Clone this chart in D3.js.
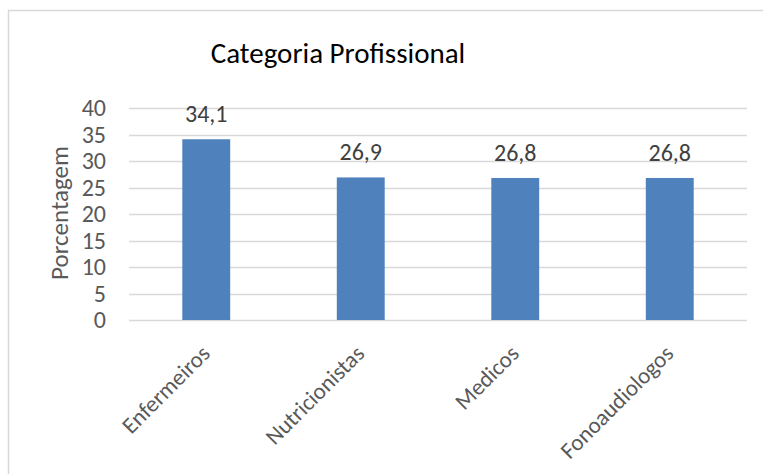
<!DOCTYPE html>
<html>
<head>
<meta charset="utf-8">
<script src="https://cdn.jsdelivr.net/npm/d3@7"></script>
<style>
  body { margin: 0; background: #fff; overflow: hidden; }
  svg { display: block; font-family: Carlito, Calibri, Lato, sans-serif; }
</style>
</head>
<body>
<svg id="chart" width="763" height="474"></svg>
<script>
const categories = ["Enfermeiros", "Nutricionistas", "Medicos", "Fonoaudiologos"];
const values = [34.1, 26.9, 26.8, 26.8];
const y_ticks = [0, 5, 10, 15, 20, 25, 30, 35, 40];

const svg = d3.select("#chart");
const width = 763;
const height = 474;
const margin = { left: 129, right: 16, top: 108, bottom: 154 };

// outer frame (only left/top edges fall inside the picture)
svg.append("rect")
  .attr("x", 8.5).attr("y", 10.5)
  .attr("width", 800).attr("height", 500)
  .attr("fill", "#fff")
  .attr("stroke", "#d9d9d9")
  .attr("stroke-width", 1.5);

const x = d3.scaleBand()
  .domain(categories)
  .range([margin.left, width - margin.right])
  .paddingInner(0.69)
  .paddingOuter(0.345);

const y = d3.scaleLinear()
  .domain([0, 40])
  .range([height - margin.bottom, margin.top]);

// grid
svg.append("g")
  .selectAll("line")
  .data(y_ticks)
  .join("line")
  .attr("x1", margin.left)
  .attr("x2", width - margin.right)
  .attr("y1", d => Math.round(y(d)) + 0.5)
  .attr("y2", d => Math.round(y(d)) + 0.5)
  .attr("stroke", "#d9d9d9")
  .attr("stroke-width", 1.5);

// y axis labels
const yAxis = svg.append("g")
  .attr("transform", `translate(${ margin.left - 23 }, 0)`)
  .call(d3.axisLeft(y).tickValues(y_ticks).tickSize(0).tickPadding(0));
yAxis.attr("font-family", null).attr("font-size", null);
yAxis.select(".domain").remove();
yAxis.selectAll("text")
  .attr("fill", "#595959")
  .attr("dy", "0.33em")
  .style("font-size", "24px");

// bars
svg.append("g")
  .selectAll("rect")
  .data(values)
  .join("rect")
  .attr("x", (d, i) => x(categories[i]))
  .attr("y", d => y(d))
  .attr("width", x.bandwidth())
  .attr("height", d => y(0) - y(d))
  .attr("fill", "#4f81bd");

// data labels
svg.append("g")
  .selectAll("text")
  .data(values)
  .join("text")
  .attr("x", (d, i) => x(categories[i]) + x.bandwidth() / 2)
  .attr("y", d => y(d) - 17)
  .attr("text-anchor", "middle")
  .attr("fill", "#404040")
  .style("font-size", "24px")
  .text(d => d.toFixed(1).replace(".", ","));

// x axis labels
const xAxis = svg.append("g")
  .attr("transform", `translate(0, ${ y(0) })`)
  .call(d3.axisBottom(x).tickSize(0).tickPadding(0));
xAxis.attr("font-family", null).attr("font-size", null);
xAxis.select(".domain").remove();
xAxis.selectAll("text")
  .attr("fill", "#595959")
  .style("font-size", "23px")
  .attr("text-anchor", "end")
  .attr("y", 0)
  .attr("dy", 0)
  .attr("transform", "translate(5, 35) rotate(-45)");

// title
svg.append("text")
  .attr("x", 338)
  .attr("y", 63)
  .attr("text-anchor", "middle")
  .attr("fill", "#000")
  .style("font-size", "29px")
  .text("Categoria Profissional");

// y title
svg.append("text")
  .attr("transform", `translate(68, ${ (y(0) + y(40)) / 2 - 1 }) rotate(-90)`)
  .attr("text-anchor", "middle")
  .attr("fill", "#595959")
  .style("font-size", "25px")
  .text("Porcentagem");
</script>
</body>
</html>
